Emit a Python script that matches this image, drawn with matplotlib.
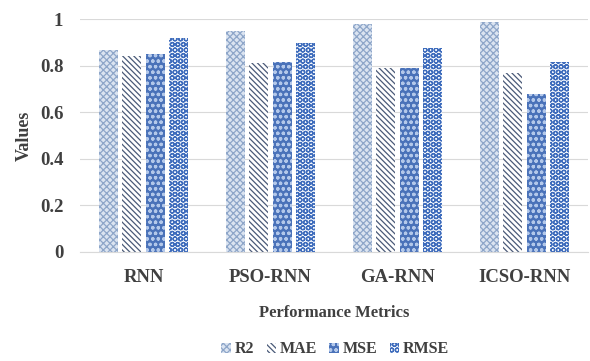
import matplotlib
matplotlib.use("Agg")
import matplotlib.pyplot as plt
import numpy as np

categories = ["RNN", "PSO-RNN", "GA-RNN", "ICSO-RNN"]
series_names = ["R2", "MAE", "MSE", "RMSE"]
r2 = [0.867, 0.948, 0.979, 0.987]
mae = [0.841, 0.810, 0.791, 0.770]
mse = [0.850, 0.817, 0.791, 0.677]
rmse = [0.920, 0.896, 0.878, 0.817]
yticks = [0, 0.2, 0.4, 0.6, 0.8, 1]

plt.rcParams['font.family'] = ['Liberation Serif', 'DejaVu Serif']
plt.rcParams['hatch.linewidth'] = 0.9

fig = plt.figure(figsize=(5.9, 3.61), dpi=100)
ax = fig.add_axes([0.1356, 0.302, 0.861, 0.645])

x = np.arange(len(categories))
step = 0.185
width = 0.15
styles = [
    dict(facecolor='#dbe4f1', edgecolor='#8ea6c9', hatch='xxxxx'),
    dict(facecolor='#ffffff', edgecolor='#4a5a78', hatch='\\\\\\\\\\\\'),
    dict(facecolor='#4a72b9', edgecolor='#b3c8ea', hatch='ooo'),
    dict(facecolor='#f4f7fc', edgecolor='#3e6cbc', hatch='OOO'),
]
for i, (name, vals) in enumerate(zip(series_names, [r2, mae, mse, rmse])):
    ax.bar(x + (i - 1.5) * step, vals, width, label=name, linewidth=0, **styles[i])

ax.set_ylim(0, 1)
ax.set_xlim(-0.5, 3.5)
ax.set_yticks(yticks)
ax.set_yticklabels([f"{t:g}" for t in yticks])
ax.set_xticks(x)
ax.set_xticklabels(categories)
ax.grid(axis='y', color='#d9d9d9', linewidth=0.8)
ax.set_axisbelow(True)
for s in ['top', 'right', 'left']:
    ax.spines[s].set_visible(False)
ax.spines['bottom'].set_color('#d9d9d9')
ax.tick_params(axis='y', length=0, labelsize=13.5, colors='#404040', pad=12)
ax.tick_params(axis='x', length=0, labelsize=13.5, colors='#404040', pad=12)
for lbl in ax.get_xticklabels() + ax.get_yticklabels():
    lbl.set_fontweight('bold')

ax.set_ylabel("Values", fontsize=13, fontweight='bold', color='#404040', labelpad=5)
ax.set_xlabel("Performance Metrics", fontsize=12, fontweight='bold', color='#404040', labelpad=14)

leg = fig.legend(loc='lower center', bbox_to_anchor=(0.568, -0.03), ncol=4, frameon=False,
                 prop={'weight': 'bold', 'size': 11.5}, handlelength=0.6, handleheight=0.6,
                 columnspacing=0.8, handletextpad=0.2, labelcolor='#404040')

fig.savefig("out.png", dpi=100)
